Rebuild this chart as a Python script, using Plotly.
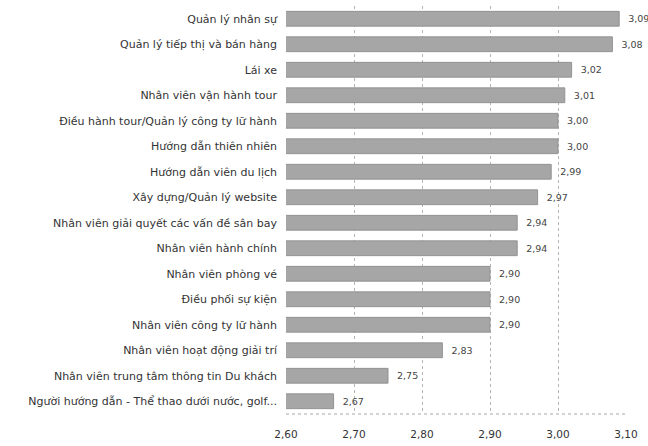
import plotly.graph_objects as go

categories = [
    "Quản lý nhân sự",
    "Quản lý tiếp thị và bán hàng",
    "Lái xe",
    "Nhân viên vận hành tour",
    "Điều hành tour/Quản lý công ty lữ hành",
    "Hướng dẫn thiên nhiên",
    "Hướng dẫn viên du lịch",
    "Xây dựng/Quản lý website",
    "Nhân viên giải quyết các vấn đề sân bay",
    "Nhân viên hành chính",
    "Nhân viên phòng vé",
    "Điều phối sự kiện",
    "Nhân viên công ty lữ hành",
    "Nhân viên hoạt động giải trí",
    "Nhân viên trung tâm thông tin Du khách",
    "Người hướng dẫn - Thể thao dưới nước, golf...",
]
values = [3.09, 3.08, 3.02, 3.01, 3.00, 3.00, 2.99, 2.97, 2.94, 2.94,
          2.90, 2.90, 2.90, 2.83, 2.75, 2.67]
tick_vals = [2.60, 2.70, 2.80, 2.90, 3.00, 3.10]

fig = go.Figure()
fig.add_trace(go.Bar(
    y=categories,
    x=values,
    orientation="h",
    marker=dict(color="#a6a6a6", line=dict(color="#939393", width=1)),
    texttemplate="  %{x:.2f}",
    textposition="outside",
    textfont=dict(family="DejaVu Sans", size=9.5, color="#444444"),
    cliponaxis=False,
    constraintext="none",
    width=0.58,
))

fig.add_shape(type="line", xref="paper", yref="paper", x0=0, x1=1, y0=0, y1=0,
              line=dict(color="#a8a8a8", width=1, dash="dot"))

fig.update_layout(
    width=648, height=446,
    margin=dict(l=286, r=22, t=6, b=28),
    paper_bgcolor="#ffffff",
    plot_bgcolor="#ffffff",
    separators=",.",
    showlegend=False,
    font=dict(family="DejaVu Sans", color="#333333"),
)
fig.update_xaxes(
    range=[2.60, 3.10],
    tickvals=tick_vals,
    tickformat=".2f",
    showgrid=True,
    gridcolor="#b5b5b5",
    griddash="dot",
    gridwidth=1,
    zeroline=False,
    showline=False,
    tickfont=dict(family="DejaVu Sans", size=10.5, color="#333333"),
    ticks="",
    ticklabelstandoff=12,
)
fig.update_yaxes(
    autorange="reversed",
    showgrid=False,
    ticks="",
    ticklabelstandoff=8,
    tickfont=dict(family="DejaVu Sans", size=11, color="#333333"),
)

fig.write_html("out.html")
